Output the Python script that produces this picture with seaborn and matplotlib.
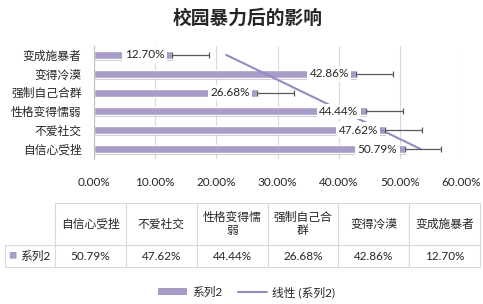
import matplotlib.pyplot as plt
import matplotlib.patheffects as pe
from matplotlib.lines import Line2D
from matplotlib.patches import Patch
from matplotlib.table import Table
import numpy as np
import pandas as pd
import seaborn as sns

# data (table order, bottom bar first)
categories = ["自信心受挫", "不爱社交", "性格变得懦弱", "强制自己合群", "变得冷漠", "变成施暴者"]
values = [50.79, 47.62, 44.44, 26.68, 42.86, 12.70]
table_headers = ["自信心受挫", "不爱社交", "性格变得懦\n弱", "强制自己合\n群", "变得冷漠", "变成施暴者"]
x_ticks = [0, 10, 20, 30, 40, 50, 60]
error_plus = 6.02
series_name = "系列2"
trend_name = "线性 (系列2)"
title = "校园暴力后的影响"

BAR = "#a99cc8"
TREND = "#9a89c0"
GRID = "#d9d9d9"

sns.set_theme(style="white")
plt.rcParams["font.family"] = ["Lato", "Noto Sans CJK SC", "DejaVu Sans"]

W, H = 483, 304
fig = plt.figure(figsize=(W / 100, H / 100), dpi=100)
fig.patch.set_facecolor("white")

# main bar chart
ax = fig.add_axes([94 / W, 1 - 158.5 / H, 367 / W, 113 / H])
frame = pd.DataFrame({"category": categories[::-1], "value": values[::-1]})
sns.barplot(data=frame, x="value", y="category", orient="h", color=BAR,
            saturation=1, width=0.43, ax=ax, zorder=2)
for bar in ax.patches:
    bar.set_path_effects([pe.SimplePatchShadow(offset=(0.8, -1.3), shadow_rgbFace="#5a4d78", alpha=0.35),
                          pe.Normal()])

ax.set_xlim(0, 60)
ax.set_ylim(5.5, -0.5)
ax.set_xticks(x_ticks)
ax.set_xticklabels([f"{t:.2f}%" for t in x_ticks], fontsize=8.5)
ax.set_yticks(range(len(frame)))
ax.set_yticklabels(frame["category"], fontsize=8.5)
ax.xaxis.grid(True, color=GRID, lw=0.8)
ax.set_axisbelow(True)
ax.tick_params(axis="both", length=0)
ax.tick_params(axis="x", pad=13)
ax.tick_params(axis="y", pad=9)
ax.set_xlabel("")
ax.set_ylabel("")
for side in ["top", "right", "bottom"]:
    ax.spines[side].set_visible(False)
ax.spines["left"].set_color("#bfbfbf")
ax.spines["left"].set_linewidth(0.8)

pos = np.arange(len(frame))
ax.errorbar(frame["value"], pos, xerr=[np.zeros(len(frame)), np.full(len(frame), error_plus)],
            fmt="none", ecolor="#595959", elinewidth=0.9, capsize=2, capthick=0.9, zorder=4)

for i, v in enumerate(frame["value"]):
    ax.text(v - 1.2, i, f"{v:.2f}%", ha="right", va="center", fontsize=8.5, zorder=5,
            bbox=dict(boxstyle="square,pad=0.2", fc="white", ec="none"))

# linear trend line over the categories (1 = bottom bar)
k = np.arange(1, len(values) + 1)
slope, intercept = np.polyfit(k, values, 1)
ax.plot(slope * k + intercept, len(values) - k, color=TREND, lw=1.5, zorder=3)

# data table
tax = fig.add_axes([0, 0, 1, 1])
tax.axis("off")
tbl = Table(tax, bbox=[5 / W, 1 - 267 / H, 475 / W, 64 / H])
col_w, lab_w, head_h, row_h = 70.8, 50, 42, 22
for c, head in enumerate(table_headers):
    tbl.add_cell(0, c + 1, col_w, head_h, text=head, loc="center")
tbl.add_cell(1, 0, lab_w, row_h, text=series_name, loc="right")
for c, v in enumerate(values):
    tbl.add_cell(1, c + 1, col_w, row_h, text=f"{v:.2f}%", loc="center")
tbl.auto_set_font_size(False)
tbl.set_fontsize(8.5)
for cell in tbl.get_celld().values():
    cell.set_edgecolor(GRID)
    cell.set_linewidth(0.8)
tax.add_table(tbl)
tax.text(12 / W, 1 - 256 / H, "■", color=BAR, fontsize=6, ha="center", va="center",
         transform=tax.transAxes)

# title and legend
fig.text(0.513, 1 - 17 / H, title, ha="center", va="center", fontsize=13.5, fontweight="bold")
handles = [Patch(facecolor=BAR, edgecolor="none"), Line2D([0], [0], color=TREND, lw=1.5)]
fig.legend(handles, [series_name, trend_name], loc="center", bbox_to_anchor=(0.51, 1 - 292 / H),
           ncol=2, frameon=False, fontsize=8.5, handlelength=2.5, handleheight=0.6,
           columnspacing=1.3, handletextpad=0.4)

fig.savefig("out.png", dpi=100)
